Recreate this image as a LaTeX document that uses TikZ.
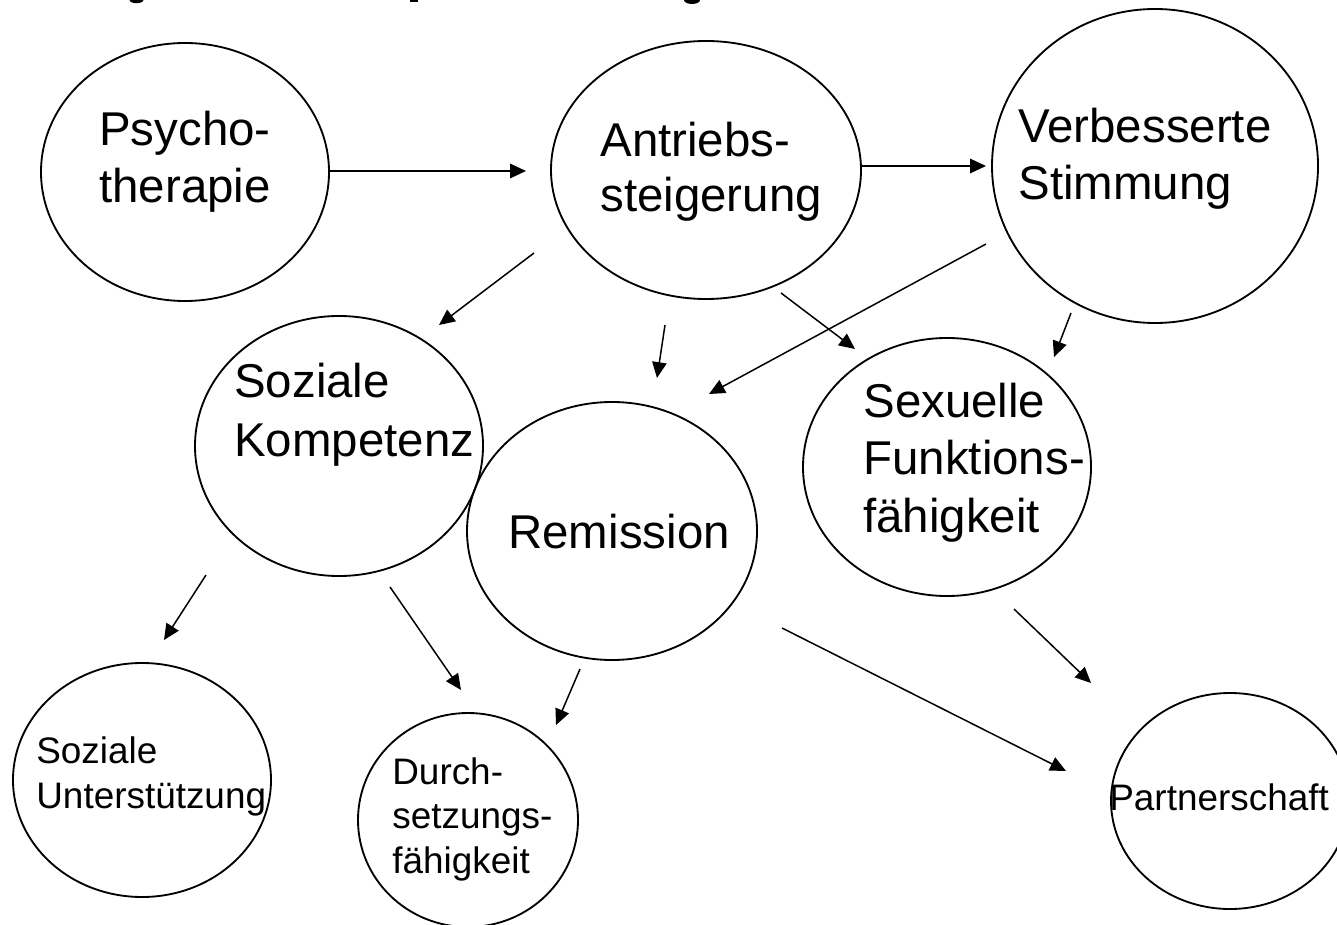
\documentclass[tikz,border=0pt]{standalone}
\usepackage{fontspec}
\setmainfont{Liberation Sans}
\usetikzlibrary{shapes.geometric,arrows.meta}
\begin{document}
\begin{tikzpicture}[x=0.02cm,y=-0.02cm,
  ell/.style={draw,ellipse,inner sep=0pt,outer sep=0pt,line width=1.05pt},
  big/.style={anchor=base west,inner sep=0pt,font=\fontsize{27}{32}\selectfont},
  small/.style={anchor=base west,inner sep=0pt,font=\fontsize{21}{25}\selectfont},
  arr/.style={line width=0.85pt,-{Triangle[length=9pt,width=8.2pt]}}]
\useasboundingbox (0,0) rectangle (1337,925);
\begin{scope}
\clip (0,0) rectangle (1337,925);
% cut-off title fragments
\fill (136.5,0) ellipse [x radius=7, y radius=3.2];
\fill (410,-2) rectangle (418,2.5);
\fill (692,0) ellipse [x radius=8, y radius=4];
% ellipses
\node[ell,minimum width=288*0.02cm,minimum height=258*0.02cm] (psy) at (185,172) {};
\node[ell,minimum width=310*0.02cm,minimum height=258*0.02cm] (ant) at (706,170) {};
\node[ell,minimum width=326*0.02cm,minimum height=314*0.02cm] (ver) at (1155,166) {};
\node[ell,minimum width=288*0.02cm,minimum height=260*0.02cm] (soz) at (339,446) {};
\node[ell,minimum width=290*0.02cm,minimum height=258*0.02cm] (rem) at (612,531) {};
\node[ell,minimum width=288*0.02cm,minimum height=258*0.02cm] (sex) at (947,467) {};
\node[ell,minimum width=258*0.02cm,minimum height=234*0.02cm] (szu) at (142,780) {};
\node[ell,minimum width=220*0.02cm,minimum height=214*0.02cm] (dur) at (468,820) {};
\node[ell,minimum width=238*0.02cm,minimum height=216*0.02cm] (par) at (1230,801) {};
\end{scope}
% texts
\node[big] (psy1) at (99,146) {Psycho-};
\node[big] (psy2) at (99,203) {therapie};
\node[big] (ant1) at (600,157) {Antriebs-};
\node[big] (ant2) at (600,212) {steigerung};
\node[big] (ver1) at (1018,143) {Verbesserte};
\node[big] (ver2) at (1018,200) {Stimmung};
\node[big] (soz1) at (234,398) {Soziale};
\node[big] (soz2) at (234,456) {Kompetenz};
\node[big] (rem1) at (508,548) {Remission};
\node[big] (sex1) at (863,417) {Sexuelle};
\node[big] (sex2) at (863,474) {Funktions-};
\node[big] (sex3) at (863,532) {fähigkeit};
\node[small] (szu1) at (36,763) {Soziale};
\node[small] (szu2) at (36,808) {Unterstützung};
\node[small] (dur1) at (392,784) {Durch-};
\node[small] (dur2) at (392,828) {setzungs-};
\node[small] (dur3) at (392,873) {fähigkeit};
\node[small] (par1) at (1109,810) {Partnerschaft};
% arrow end points
\coordinate (a1s) at (329,171);  \coordinate (a1e) at (526,171);
\coordinate (a2s) at (861,166);  \coordinate (a2e) at (986,166);
\coordinate (a3s) at (534,253);  \coordinate (a3e) at (439,325);
\coordinate (a4s) at (665,325);  \coordinate (a4e) at (657,378);
\coordinate (a5s) at (781,293);  \coordinate (a5e) at (855,349);
\coordinate (a6s) at (986,244);  \coordinate (a6e) at (709,394);
\coordinate (a7s) at (1071,313); \coordinate (a7e) at (1054,357);
\coordinate (a8s) at (206,575);  \coordinate (a8e) at (164,640);
\coordinate (a9s) at (390,587);  \coordinate (a9e) at (461,690);
\coordinate (a10s) at (580,669); \coordinate (a10e) at (556,725);
\coordinate (a11s) at (782,628); \coordinate (a11e) at (1066,771);
\coordinate (a12s) at (1014,609);\coordinate (a12e) at (1091,683);
\foreach \i in {1,...,12} {\draw[arr] (a\i s) -- (a\i e);}
\end{tikzpicture}
\end{document}
